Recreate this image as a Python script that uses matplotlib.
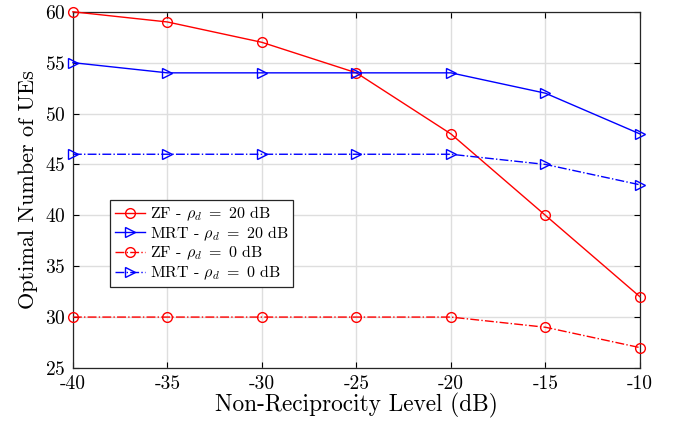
import matplotlib
matplotlib.use("Agg")
import matplotlib.pyplot as plt

plt.rcParams["font.family"] = ["cmr10", "DejaVu Serif"]
plt.rcParams["mathtext.fontset"] = "cm"
plt.rcParams["axes.unicode_minus"] = False
plt.rcParams["axes.formatter.use_mathtext"] = True

# data
levels = [-40, -35, -30, -25, -20, -15, -10]
zf_20 = [60, 59, 57, 54, 48, 40, 32]
mrt_20 = [55, 54, 54, 54, 54, 52, 48]
zf_0 = [30, 30, 30, 30, 30, 29, 27]
mrt_0 = [46, 46, 46, 46, 46, 45, 43]
xticks = [-40, -35, -30, -25, -20, -15, -10]
yticks = [25, 30, 35, 40, 45, 50, 55, 60]

fig = plt.figure(figsize=(6.75, 4.21), dpi=100)
ax = fig.add_axes([0.108, 0.126, 0.84, 0.846])

ax.plot(levels, zf_20, color="red", ls="-", lw=1, marker="o", ms=7, mfc="none", mew=1,
        label=r"ZF - $\rho_d\ =\ 20$ dB", clip_on=False, zorder=3)
ax.plot(levels, mrt_20, color="blue", ls="-", lw=1, marker=">", ms=7, mfc="none", mew=1,
        label=r"MRT - $\rho_d\ =\ 20$ dB", clip_on=False, zorder=3)
ax.plot(levels, zf_0, color="red", ls="-.", lw=1, marker="o", ms=7, mfc="none", mew=1,
        label=r"ZF - $\rho_d\ =\ 0$ dB", clip_on=False, zorder=3)
ax.plot(levels, mrt_0, color="blue", ls="-.", lw=1, marker=">", ms=7, mfc="none", mew=1,
        label=r"MRT - $\rho_d\ =\ 0$ dB", clip_on=False, zorder=3)

ax.set_xlim(-40, -10)
ax.set_ylim(25, 60)
ax.set_xticks(xticks)
ax.set_xticklabels([str(v) for v in xticks])
ax.set_yticks(yticks)
ax.tick_params(direction="in", labelsize=14, length=4, width=0.8, top=True, right=True, pad=5)
ax.grid(True, color="#dedede", lw=1)
ax.set_axisbelow(True)
for s in ax.spines.values():
    s.set_color("#262626")
    s.set_linewidth(0.9)

ax.set_xlabel("Non-Reciprocity Level (dB)", fontsize=16.8, labelpad=0)
ax.set_ylabel("Optimal Number of UEs", fontsize=16, labelpad=5)

leg = ax.legend(loc="upper left", bbox_to_anchor=(0.065, 0.472), fontsize=11.5,
                fancybox=False, framealpha=1, edgecolor="#262626",
                handlelength=1.9, handletextpad=0.3, labelspacing=0.08,
                borderpad=0.3, borderaxespad=0)
leg.get_frame().set_linewidth(0.9)

fig.savefig("out.png", dpi=100)
